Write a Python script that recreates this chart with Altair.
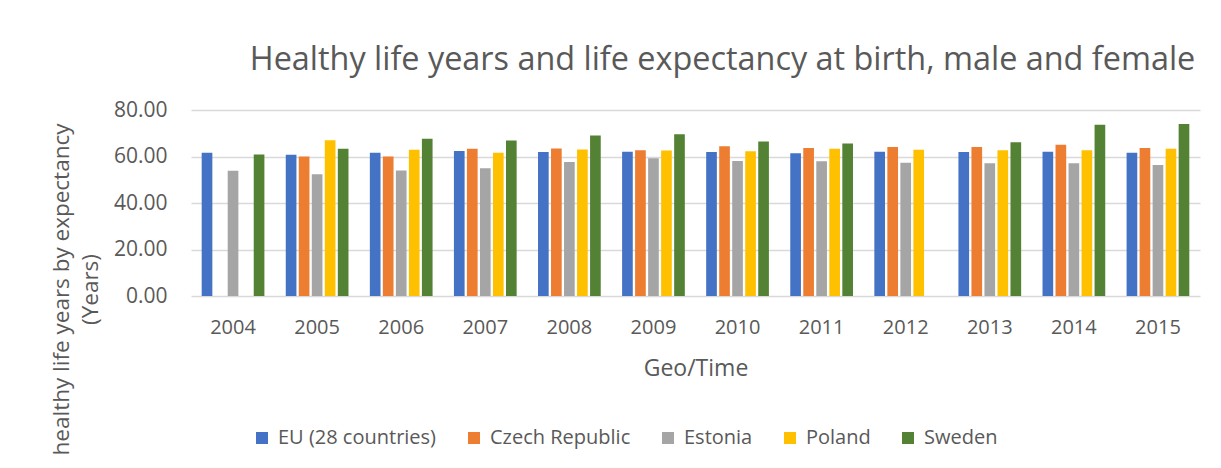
import altair as alt
import pandas as pd

years = ["2004", "2005", "2006", "2007", "2008", "2009", "2010", "2011", "2012", "2013", "2014", "2015"]
countries = ["EU (28 countries)", "Czech Republic", "Estonia", "Poland", "Sweden"]
colors = ["#4472C4", "#ED7D31", "#A5A5A5", "#FFC000", "#548235"]

eu = [61.6, 60.7, 61.6, 62.4, 61.9, 62.0, 61.9, 61.4, 62.0, 61.9, 62.0, 61.6]
czech = [None, 60.0, 60.0, 63.3, 63.4, 62.7, 64.4, 63.7, 64.1, 64.1, 65.1, 63.7]
estonia = [53.9, 52.4, 54.0, 55.0, 57.6, 59.3, 58.1, 58.0, 57.3, 57.1, 57.1, 56.3]
poland = [None, 67.0, 62.9, 61.6, 63.0, 62.6, 62.3, 63.3, 62.9, 62.7, 62.7, 63.3]
sweden = [60.9, 63.3, 67.6, 66.9, 69.0, 69.6, 66.4, 65.6, None, 66.1, 73.7, 74.0]

series = [eu, czech, estonia, poland, sweden]
rows = []
for c, vals in zip(countries, series):
    for y, v in zip(years, vals):
        if v is not None:
            rows.append({"year": y, "country": c, "value": v})
df = pd.DataFrame(rows)

FONT = "Open Sans"
TXT = "#595959"

chart = alt.Chart(df).mark_bar().encode(
    x=alt.X("year:N", sort=years,
            scale=alt.Scale(paddingInner=0.254, paddingOuter=0.127),
            axis=alt.Axis(title="Geo/Time", labelAngle=0, labelFontSize=20, labelColor=TXT,
                          labelFont=FONT, labelPadding=21, ticks=False, domain=False,
                          titleFont=FONT, titleFontSize=23, titleColor=TXT,
                          titleFontWeight="normal", titlePadding=20)),
    xOffset=alt.XOffset("country:N", sort=countries,
                        scale=alt.Scale(paddingInner=0.18, paddingOuter=0)),
    y=alt.Y("value:Q",
            scale=alt.Scale(domain=[0, 80]),
            axis=alt.Axis(values=[0, 20, 40, 60, 80], format=".2f",
                          title=["healthy life years by expectancy", "(Years)"],
                          labelFontSize=21, labelColor=TXT, labelFont=FONT,
                          labelPadding=24, ticks=False, domain=False,
                          gridColor="#D9D9D9", gridWidth=1.3,
                          titleFont=FONT, titleFontSize=22.5, titleColor=TXT,
                          titleFontWeight="normal", titleAngle=270,
                          titleAlign="center", titleBaseline="top",
                          titleX=-141, titleY=179, titleLineHeight=29)),
    color=alt.Color("country:N", sort=countries,
                    scale=alt.Scale(domain=countries, range=colors),
                    legend=alt.Legend(title=None, orient="none", direction="horizontal",
                                      columns=5, legendX=61, legendY=318,
                                      symbolType="square", symbolSize=144,
                                      symbolStrokeWidth=0,
                                      labelFont=FONT, labelFontSize=20, labelColor=TXT,
                                      labelOffset=6, columnPadding=27)),
).properties(
    width=1009,
    height=186,
    background="white",
    title=alt.TitleParams(
        "Healthy life years and life expectancy at birth, male and female",
        font=FONT, fontSize=32.4, fontWeight="normal", color=TXT,
        anchor="middle", dx=27, offset=23),
    autosize=alt.AutoSizeParams(type="none"),
    padding={"left": 183, "top": 102, "right": 13, "bottom": 168},
).configure_view(stroke=None, strokeWidth=0)

chart.save("out.html", embed_options={"renderer": "svg", "actions": False})
